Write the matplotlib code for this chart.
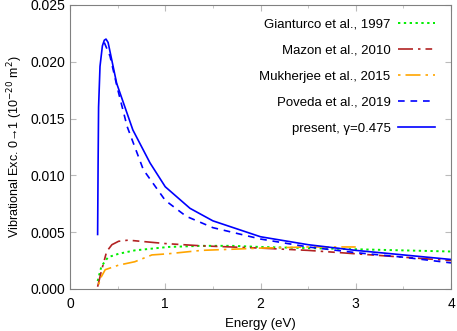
import numpy as np
import matplotlib
matplotlib.use("Agg")
import matplotlib.pyplot as plt
from matplotlib.ticker import MultipleLocator, FormatStrFormatter

plt.rcParams['font.family'] = ['Liberation Sans', 'DejaVu Sans']

# Gianturco et al., 1997
gian_x = [0.29, 0.33, 0.40, 0.51, 0.68, 1.03, 1.38, 1.7, 2.0, 2.5, 3.0, 3.5, 4.0]
gian_y = [0.0007, 0.0020, 0.0028, 0.0031, 0.0034, 0.0037, 0.0038, 0.0038, 0.0037, 0.0036, 0.0035, 0.0034, 0.0033]

# Mazon et al., 2010
maz_x = [0.29, 0.33, 0.385, 0.44, 0.51, 0.61, 1.0, 1.38, 2.0, 2.5, 3.0, 3.5, 4.0]
maz_y = [0.0002, 0.0016, 0.0033, 0.0039, 0.0042, 0.0043, 0.0040, 0.0038, 0.0036, 0.0034, 0.0031, 0.0028, 0.0025]

# Mukherjee et al., 2015
muk_x = [0.30, 0.33, 0.37, 0.51, 0.68, 0.86, 1.03, 1.38, 1.7, 2.0, 2.5, 3.0]
muk_y = [0.0004, 0.0011, 0.0017, 0.0021, 0.0024, 0.0030, 0.0031, 0.0034, 0.0035, 0.0036, 0.0037, 0.0037]

# Poveda et al., 2019
pov_x = [0.36, 0.42, 0.5, 0.6, 0.77, 1.0, 1.22, 1.5, 2.0, 2.5, 3.0, 3.5, 4.0]
pov_y = [0.0217, 0.0205, 0.0176, 0.0143, 0.0105, 0.0078, 0.0064, 0.0054, 0.0044, 0.0037, 0.0032, 0.0028, 0.0023]

# present, gamma=0.475
pres_x = [0.29, 0.295, 0.30, 0.315, 0.34, 0.36, 0.378, 0.40, 0.49, 0.66, 0.84, 1.0, 1.26, 1.5, 2.0, 2.5, 3.0, 3.5, 4.0]
pres_y = [0.0048, 0.0110, 0.0160, 0.0196, 0.0214, 0.0219, 0.0220, 0.0217, 0.0181, 0.0140, 0.0111, 0.0090, 0.0071, 0.0060, 0.0046, 0.0039, 0.0034, 0.0030, 0.0026]

fig = plt.figure(figsize=(4.57, 3.31), dpi=100)
ax = fig.add_axes([70 / 457, 42 / 331, 381 / 457, 284 / 331])

ax.plot(gian_x, gian_y, color='#00ee00', lw=1.4, linestyle=(0, (1.2, 1.8)), label='Gianturco et al., 1997')
ax.plot(maz_x, maz_y, color='#b22222', lw=1.2, linestyle=(0, (9, 3, 1.5, 3, 4, 3)), label='Mazon et al., 2010')
ax.plot(muk_x, muk_y, color='#ffa500', lw=1.2, linestyle=(0, (1.5, 3, 9, 3)), label='Mukherjee et al., 2015')
ax.plot(pov_x, pov_y, color='#0000ff', lw=1.2, linestyle=(0, (4, 3.5)), label='Poveda et al., 2019')
ax.plot(pres_x, pres_y, color='#0000ff', lw=1.2, label='present, \u03b3=0.475')

ax.set_xlim(0, 4)
ax.set_ylim(0, 0.025)
ax.xaxis.set_major_locator(MultipleLocator(1))
ax.xaxis.set_minor_locator(MultipleLocator(0.5))
ax.yaxis.set_major_locator(MultipleLocator(0.005))
ax.yaxis.set_major_formatter(FormatStrFormatter('%.3f'))
ax.tick_params(which='both', direction='in', color='#bbbbbb', labelsize=10, top=True, right=True)
ax.tick_params(which='major', length=4)
ax.tick_params(which='minor', length=2)
ax.tick_params(axis='x', pad=5.5)
for s in ax.spines.values():
    s.set_color('#808080')

ax.set_xlabel('Energy (eV)', fontsize=9.5, labelpad=5)
ax.set_ylabel('Vibrational Exc. 0\u21921 (10$^{-20}$ m$^2$)', fontsize=9, labelpad=4)

ax.legend(loc='upper right', bbox_to_anchor=(0.99, 0.995), frameon=False, markerfirst=False,
          fontsize=9.5, handlelength=2.8, handletextpad=0.6, labelspacing=1.05,
          borderaxespad=0.5)

fig.savefig('out.png', dpi=100)
